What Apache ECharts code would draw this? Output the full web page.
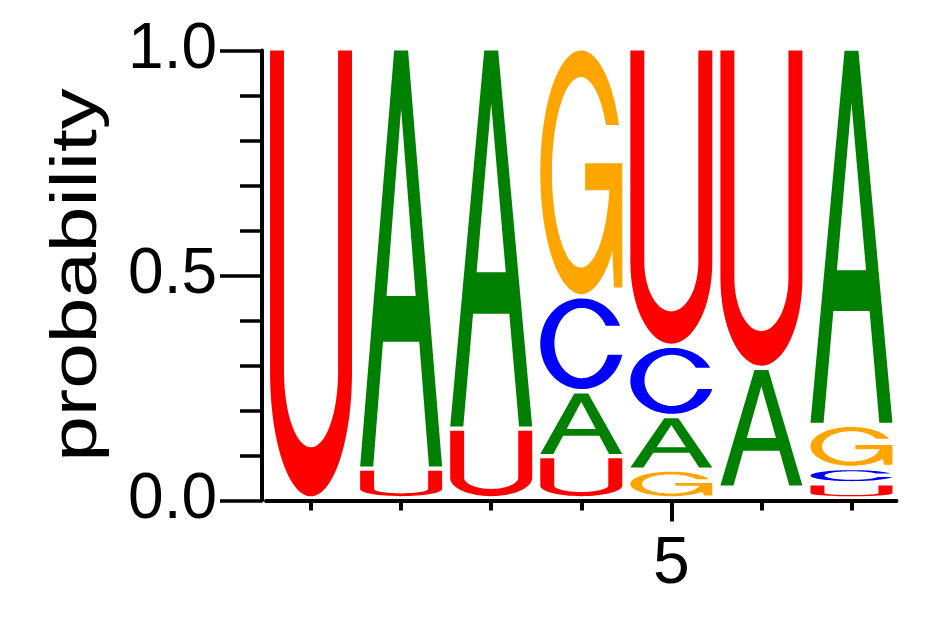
<!DOCTYPE html>
<html>
<head>
<meta charset="utf-8">
<script src="https://cdn.jsdelivr.net/npm/echarts@6/dist/echarts.min.js"></script>
<style>
  html, body { margin: 0; padding: 0; background: #ffffff; }
  #chart { width: 942px; height: 617px; }
</style>
</head>
<body>
<div id="chart"></div>
<script>
// ---------------- data ----------------
const positions = ['1', '2', '3', '4', '5', '6', '7'];
const letters = ['A', 'C', 'G', 'U'];
const probA = [0, 0.934, 0.845, 0.144, 0.119, 0.266, 0.836];
const probC = [0, 0, 0, 0.211, 0.156, 0.013, 0.034];
const probG = [0, 0, 0, 0.551, 0.064, 0.011, 0.096];
const probU = [1.0, 0.066, 0.155, 0.094, 0.661, 0.710, 0.0335];
const yTicks = [0, 0.5, 1.0];
const xTickLabels = ['5'];

const letterColors = { A: '#008000', C: '#0000ff', G: '#ffa500', U: '#ff0000' };

// ---------------- glyph outlines (unit box 0..100, y down) ----------------
function ellPts(cx, cy, rx, ry, a0, a1, n) {
  const pts = [];
  for (let k = 0; k <= n; k++) {
    const a = (a0 + (a1 - a0) * k / n) * Math.PI / 180;
    pts.push([cx + rx * Math.cos(a), cy - ry * Math.sin(a)]);
  }
  return pts;
}
function toPath(pts) {
  return pts.map((p, k) => (k === 0 ? 'M' : 'L') + p[0].toFixed(2) + ' ' + p[1].toFixed(2)).join(' ') + ' Z';
}
function glyphC() {
  const outer = ellPts(50, 50, 50, 50, 23.58, 345.88, 90);
  const inner = ellPts(50, 49.2, 33, 38.8, 340.43, 29.66, 80);
  return toPath(outer.concat(inner));
}
function glyphG() {
  const outer = ellPts(50, 50, 50, 50, 22.83, 315, 90);
  const mid = [[88, 82], [89.9, 97.3], [100, 97.3], [100, 46.3], [54.7, 46.3], [54.7, 57.4]];
  const inner = ellPts(49.6, 50, 35.4, 39.1, 349.1, 29.75, 80);
  return toPath(outer.concat(mid, inner));
}
const GLYPHS = {
  A: 'M0 100 L41.5 0 L58.5 0 L100 100 L84 100 L72.1 70 L27.9 70 L16 100 Z M32.2 59 L67.8 59 L50 14 Z',
  U: 'M0 0 L17 0 L17 72 C17 81.4 31.8 89 50 89 C68.2 89 83 81.4 83 72 L83 0 L100 0 L100 72 C100 87.5 77.6 100 50 100 C22.4 100 0 87.5 0 72 Z',
  C: glyphC(),
  G: glyphG()
};

// ---------------- stacking ----------------
const probs = { A: probA, C: probC, G: probG, U: probU };
const stackData = [];
positions.forEach((p, i) => {
  const items = letters.map((l, li) => ({ l, li, v: probs[l][i] })).filter(d => d.v > 0);
  items.sort((a, b) => a.v - b.v);
  let cum = 0;
  items.forEach(d => {
    stackData.push([i, cum, cum + d.v, d.li]);
    cum += d.v;
  });
});

// ---------------- chart ----------------
const chart = echarts.init(document.getElementById('chart'), null, { renderer: 'canvas' });
const FONT = '"Liberation Sans", Arial, Helvetica, sans-serif';

chart.setOption({
  animation: false,
  backgroundColor: '#ffffff',
  grid: { left: 266, right: 45.5, top: 50.5, bottom: 116.5, containLabel: false, outerBoundsMode: 'none' },
  xAxis: [
    {
      type: 'category',
      data: positions,
      position: 'bottom',
      boundaryGap: true,
      axisLine: { show: true, onZero: false, lineStyle: { color: '#000', width: 4 } },
      axisTick: { show: true, alignWithLabel: true, length: 10, lineStyle: { color: '#000', width: 4 } },
      axisLabel: {
        show: true, interval: 0, margin: 31,
        fontFamily: FONT, fontSize: 66, color: '#000',
        formatter: v => (xTickLabels.indexOf(v) >= 0 ? v : '')
      },
      splitLine: { show: false }
    },
    {
      type: 'category',
      data: positions,
      position: 'bottom',
      boundaryGap: true,
      axisLine: { show: false, onZero: false },
      axisTick: {
        show: true, alignWithLabel: true, length: 21,
        interval: (idx, v) => xTickLabels.indexOf(v) >= 0,
        lineStyle: { color: '#000', width: 4 }
      },
      axisLabel: { show: false },
      splitLine: { show: false }
    }
  ],
  yAxis: {
    type: 'value',
    min: 0, max: 1, interval: 0.5,
    offset: 4,
    axisLine: { show: true, lineStyle: { color: '#000', width: 4 } },
    axisTick: { show: true, length: 42, lineStyle: { color: '#000', width: 3.5 } },
    minorTick: { show: true, splitNumber: 5, length: 22, lineStyle: { color: '#000', width: 3.5 } },
    minorSplitLine: { show: false },
    splitLine: { show: false },
    axisLabel: {
      margin: 45, fontFamily: FONT, fontSize: 64, color: '#000',
      formatter: v => (yTicks.some(t => Math.abs(t - v) < 1e-9) ? v.toFixed(1) : '')
    }
  },
  graphic: [
    {
      type: 'text',
      x: 78, y: 275,
      rotation: Math.PI / 2,
      scaleX: 1.28,
      style: {
        text: 'probability',
        fontFamily: FONT, fontSize: 64,
        fill: '#000',
        align: 'center', verticalAlign: 'middle',
        textAlign: 'center', textVerticalAlign: 'middle'
      }
    }
  ],
  series: [
    {
      type: 'custom',
      xAxisIndex: 0,
      yAxisIndex: 0,
      dimensions: ['pos', 'y0', 'y1', 'letter'],
      encode: { x: 0, y: [1, 2] },
      data: stackData,
      renderItem: function (params, api) {
        const xi = api.value(0);
        const y0 = api.value(1);
        const y1 = api.value(2);
        const l = letters[api.value(3)];
        const pB = api.coord([xi, y0]);
        const pT = api.coord([xi, y1]);
        const bw = api.size([1, 0])[0] * 0.91;
        const bandH = pB[1] - pT[1];
        const h = bandH - 4.3;
        if (h < 2) return null;
        return {
          type: 'path',
          shape: {
            pathData: GLYPHS[l],
            layout: 'cover',
            x: pT[0] - bw / 2,
            y: pT[1],
            width: bw,
            height: h
          },
          style: { fill: letterColors[l], stroke: null }
        };
      }
    }
  ]
});
</script>
</body>
</html>
